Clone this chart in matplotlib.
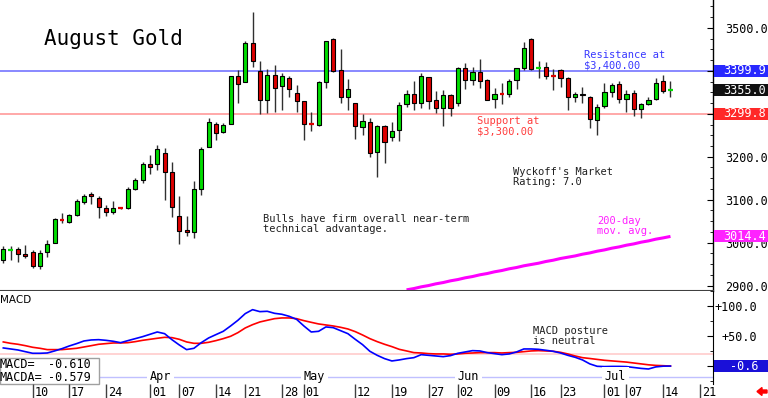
import numpy as np
import matplotlib
matplotlib.use("Agg")
import matplotlib.pyplot as plt
from matplotlib.patches import Rectangle, FancyArrow
from matplotlib.ticker import MultipleLocator

plt.rcParams['font.family'] = ['DejaVu Sans Mono']

###############################################################################
# data (daily candles, Mar 04 .. Jul 15)
opens = [2960, 2983, 2984, 2974, 2979, 2945, 2977, 2999, 3053, 3048,
         3064, 3095, 3113, 3105, 3080, 3072, 3081, 3080, 3125, 3146,
         3184, 3184, 3208, 3164, 3063, 3030, 3025, 3126, 3222, 3276,
         3257, 3276, 3387, 3375, 3466, 3400, 3331, 3391, 3365, 3384,
         3348, 3330, 3277, 3274, 3375, 3475, 3402, 3340, 3325, 3270,
         3281, 3210, 3272, 3247, 3263, 3322, 3346, 3325, 3385, 3331,
         3313, 3343, 3325, 3406, 3379, 3398, 3379, 3335, 3347, 3346,
         3379, 3406, 3474, 3405, 3408, 3388, 3401, 3384, 3339, 3347,
         3340, 3286, 3317, 3350, 3369, 3335, 3348, 3312, 3322, 3334,
         3377, 3354]
highs = [2993, 2993, 2990, 2995, 2982, 2982, 3005, 3057, 3069, 3067,
         3101, 3113, 3119, 3108, 3088, 3096, 3083, 3129, 3150, 3188,
         3205, 3228, 3221, 3188, 3109, 3063, 3144, 3222, 3290, 3282,
         3278, 3388, 3401, 3470, 3538, 3423, 3405, 3413, 3395, 3387,
         3367, 3330, 3305, 3377, 3470, 3477, 3451, 3381, 3326, 3299,
         3290, 3274, 3274, 3281, 3327, 3356, 3377, 3396, 3386, 3354,
         3356, 3345, 3410, 3419, 3410, 3427, 3380, 3360, 3371, 3381,
         3406, 3468, 3476, 3423, 3420, 3405, 3404, 3385, 3350, 3363,
         3342, 3322, 3371, 3371, 3377, 3356, 3356, 3326, 3339, 3383,
         3391, 3377]
lows = [2953, 2960, 2954, 2964, 2941, 2939, 2966, 2999, 3046, 3046,
        3063, 3089, 3089, 3057, 3062, 3067, 3079, 3078, 3122, 3139,
        3159, 3170, 3100, 3060, 2997, 3015, 3010, 3112, 3222, 3240,
        3255, 3276, 3326, 3375, 3410, 3300, 3302, 3305, 3309, 3339,
        3305, 3238, 3259, 3272, 3361, 3398, 3325, 3309, 3241, 3250,
        3199, 3152, 3185, 3237, 3236, 3315, 3308, 3313, 3311, 3302,
        3271, 3295, 3319, 3357, 3367, 3361, 3331, 3313, 3322, 3340,
        3358, 3401, 3402, 3384, 3381, 3356, 3362, 3309, 3327, 3326,
        3268, 3251, 3313, 3338, 3325, 3305, 3294, 3290, 3320, 3332,
        3348, 3340]
closes = [2985, 2984, 2974, 2968, 2945, 2976, 2997, 3056, 3052, 3064,
          3098, 3108, 3108, 3082, 3072, 3080, 3080, 3125, 3146, 3184,
          3177, 3218, 3164, 3083, 3026, 3025, 3125, 3219, 3281, 3255,
          3274, 3387, 3370, 3466, 3422, 3331, 3391, 3360, 3387, 3357,
          3330, 3276, 3276, 3373, 3470, 3400, 3340, 3358, 3272, 3284,
          3208, 3272, 3234, 3260, 3321, 3346, 3325, 3387, 3329, 3313,
          3343, 3313, 3406, 3379, 3398, 3377, 3333, 3346, 3346, 3377,
          3406, 3453, 3405, 3406, 3388, 3387, 3384, 3340, 3346, 3343,
          3288, 3315, 3350, 3367, 3335, 3346, 3312, 3322, 3333, 3371,
          3352, 3355]

# 200-day moving average, from candle 55 on (earlier values are off scale)
ma_start = 55
ma200 = [2890, 2893, 2897, 2900, 2904, 2907, 2911, 2914, 2918, 2921,
         2925, 2928, 2932, 2935, 2939, 2942, 2946, 2949, 2952, 2956,
         2959, 2963, 2966, 2969, 2973, 2976, 2980, 2983, 2987, 2990,
         2994, 2997, 3001, 3004, 3008, 3011, 3014.4]

macd = [29.6, 27.9, 26.2, 23.4, 20.7, 20.7, 21.2, 24.6, 28.4, 32.9,
        36.8, 41.2, 42.9, 43.4, 42.3, 40.7, 38.4, 41.8, 45.1, 48.4,
        52.3, 56.2, 53.4, 43.4, 34.6, 26.8, 29.0, 38.4, 46.2, 51.8,
        57.3, 66.2, 75.7, 86.8, 93.4, 90.1, 90.7, 87.3, 85.7, 82.3,
        77.3, 66.2, 56.2, 57.3, 64.6, 63.4, 58.4, 53.4, 44.0, 35.1,
        24.0, 17.3, 11.8, 7.9, 9.6, 11.8, 13.4, 18.4, 17.3, 16.2,
        15.1, 16.8, 20.7, 22.9, 25.1, 24.6, 21.8, 20.1, 18.4, 19.6,
        22.9, 27.9, 27.9, 27.3, 25.7, 24.0, 21.2, 17.3, 14.0, 9.6,
        3.0, -1.0, -1.5, -1.2, -1.2, -1.5, -3.0, -4.5, -5.5, -2.0,
        -0.8, -0.610]
macda = [39.6, 37.3, 35.7, 33.4, 30.7, 29.0, 26.8, 26.8, 26.8, 27.9,
         29.0, 31.2, 33.4, 35.7, 36.8, 37.9, 37.9, 38.4, 40.1, 42.3,
         44.0, 45.7, 47.3, 46.8, 44.0, 39.6, 37.3, 37.3, 39.0, 41.8,
         45.1, 49.0, 55.1, 62.9, 68.4, 72.9, 75.7, 78.4, 79.6, 79.6,
         78.4, 75.1, 72.3, 69.6, 67.9, 66.2, 64.0, 61.2, 56.8, 51.2,
         45.1, 40.1, 35.7, 31.8, 27.3, 24.6, 21.8, 21.2, 20.1, 19.6,
         19.6, 19.0, 19.6, 20.7, 21.2, 21.8, 21.8, 21.8, 21.2, 21.8,
         22.3, 23.4, 24.6, 25.1, 24.6, 24.0, 22.3, 19.6, 16.2, 13.4,
         12.0, 10.5, 9.0, 8.0, 7.0, 6.0, 4.5, 3.0, 1.5, 0.5,
         0.0, -0.579]

price_ticks = [2900, 3000, 3100, 3200, 3300, 3400, 3500]
# 3300 / 3400 labels sit under the support / resistance tags
price_tick_lbl = ['2900.0', '3000.0', '3100.0', '3200.0', '', '', '3500.0']
macd_ticks = [0, 50, 100]
macd_tick_lbl = ['', '+50.0', '+100.0']

day_idx = [4, 9, 14, 20, 24, 29, 33, 38, 41, 48, 53, 58, 62, 67, 72, 76,
           82, 85, 90, 95]
day_lbl = ['10', '17', '24', '01', '07', '14', '21', '28', '01', '12',
           '19', '27', '02', '09', '16', '23', '01', '07', '14', '21']
month_idx = [20, 41, 62, 82]
month_lbl = ['Apr', 'May', 'Jun', 'Jul']

resistance = 3399.9
support = 3299.8

###############################################################################
# layout (pixels of a 768x398 picture)
W, H = 768.0, 398.0
fig = plt.figure(figsize=(7.68, 3.98), dpi=100)
ax = fig.add_axes([0, 1 - 290.7 / H, 713 / W, 290.7 / H])
axm = fig.add_axes([0, 1 - 384 / H, 713 / W, (384 - 290.7) / H], sharex=ax)
axd = fig.add_axes([0, 0, 713 / W, 14 / H], sharex=ax)

idx = np.arange(len(closes))
o = np.array(opens, float)
c = np.array(closes, float)

###############################################################################
# price panel
ax.axhline(resistance, color='#8888ff', lw=1.4, zorder=1)
ax.axhline(support, color='#ffa8a8', lw=1.4, zorder=1)

ax.vlines(idx, lows, highs, color='#303030', lw=1.0, zorder=2)
up = c >= o
doji = np.abs(c - o) < 3.5
for i in idx:
    col = '#00dd00' if up[i] else '#dd0000'
    if doji[i]:
        ax.hlines((o[i] + c[i]) / 2, i - 0.32, i + 0.32, color=col, lw=1.6,
                  zorder=3)
    else:
        ax.add_patch(Rectangle((i - 0.28, min(o[i], c[i])), 0.56,
                               abs(c[i] - o[i]), fc=col, ec='black',
                               lw=0.8, zorder=3))

ax.plot(np.arange(ma_start, ma_start + len(ma200)), ma200, color='#ff00ff',
        lw=2.2, zorder=2, solid_capstyle='butt')

ax.set_xlim(-0.45, 96.8)
ax.set_ylim(2888, 3565)
ax.yaxis.tick_right()
ax.set_yticks(price_ticks)
ax.set_yticklabels(price_tick_lbl)
ax.yaxis.set_minor_locator(MultipleLocator(25))
ax.tick_params(axis='y', which='major', direction='in', length=4, pad=9,
               labelsize=8.5, colors='black')
ax.tick_params(axis='y', which='minor', direction='in', length=2)
ax.tick_params(axis='x', bottom=False, labelbottom=False)
for s in ['left', 'top']:
    ax.spines[s].set_visible(False)
ax.spines['bottom'].set_color('#404040')
ax.spines['bottom'].set_linewidth(1.5)
ax.spines['right'].set_linewidth(1.0)

txt = dict(fontsize=7.5, linespacing=1.05, va='center', ha='left')
ax.text(5.55, 3474, 'August Gold', fontsize=15, va='center', ha='left')
ax.text(35.4, 3043, 'Bulls have firm overall near-term\ntechnical advantage.',
        color='#202020', **txt)
ax.text(69.5, 3153, "Wyckoff's Market\nRating: 7.0", color='#202020', **txt)
ax.text(79.2, 3425, 'Resistance at\n$3,400.00', color='#3838ff', **txt)
ax.text(64.6, 3272, 'Support at\n$3,300.00', color='#ff3c3c', **txt)
ax.text(81.0, 3038, '200-day\nmov. avg.', color='#ff20ff', **txt)

###############################################################################
# MACD panel
axm.axhline(19.5, color='#ffcccc', lw=1.2, zorder=1)
axm.axhline(-18.3, color='#c0c0ff', lw=1.0, zorder=1)
axm.plot(idx, macda, color='#ff0000', lw=1.2, zorder=3)
axm.plot(idx, macd, color='#0000ff', lw=1.2, zorder=3)
axm.set_ylim(-30.5, 125)
axm.yaxis.tick_right()
axm.set_yticks(macd_ticks)
axm.set_yticklabels(macd_tick_lbl)
axm.yaxis.set_minor_locator(MultipleLocator(25))
axm.tick_params(axis='y', which='major', direction='in', length=4, pad=32,
                labelsize=8.5)
axm.tick_params(axis='y', which='minor', direction='in', length=2)
for lbl in axm.get_yticklabels():
    lbl.set_horizontalalignment('right')
axm.tick_params(axis='x', bottom=False, labelbottom=False)
for s in ['left', 'top', 'bottom']:
    axm.spines[s].set_visible(False)

for i, m in zip(month_idx, month_lbl):
    axm.text(i, -18.3, m, fontsize=8.5, ha='left', va='center', zorder=4,
             bbox=dict(boxstyle='square,pad=0.25', fc='white', ec='none'))

axm.text(0.0, 0.90, 'MACD', transform=axm.transAxes, fontsize=7.5,
         family='DejaVu Sans', va='center', ha='left')
axm.text(72.3, 50, 'MACD posture\nis neutral', color='#202020', **txt)

axm.add_patch(Rectangle((0, 0), 99 / 713, 0.28, transform=axm.transAxes,
                        fc='white', ec='#a0a0a0', lw=1, zorder=5,
                        clip_on=False))
axm.text(-1 / 713, 0.205, 'MACD=', transform=axm.transAxes, fontsize=8.5,
         va='center', ha='left', zorder=6)
axm.text(-1 / 713, 0.075, 'MACDA=', transform=axm.transAxes, fontsize=8.5,
         va='center', ha='left', zorder=6)
axm.text(91 / 713, 0.205, '{0:.3f}'.format(macd[-1]),
         transform=axm.transAxes, fontsize=8.5, va='center', ha='right',
         zorder=6)
axm.text(91 / 713, 0.075, '{0:.3f}'.format(macda[-1]),
         transform=axm.transAxes, fontsize=8.5, va='center', ha='right',
         zorder=6)

###############################################################################
# date strip
axd.axis('off')
axd.set_ylim(0, 1)
axd.vlines(day_idx, 0, 1, color='#404040', lw=1.0)
for i, d in zip(day_idx, day_lbl):
    axd.text(i + 0.25, 0.42, d, fontsize=8.5, ha='left', va='center')

###############################################################################
# value tags on the right edge
def tag(a, val, label, bg, tx, ha):
    yd = a.transData.transform((0, val))[1]
    fig.add_artist(Rectangle((714 / W, (yd - 6) / H), 54 / W, 12 / H,
                             transform=fig.transFigure, fc=bg, ec='none',
                             zorder=5))
    fig.text(tx / W, yd / H, label, color='white', fontsize=8.5, ha=ha,
             va='center', zorder=6)


tag(ax, resistance, '{0:.1f}'.format(resistance), '#2828ff', 723, 'left')
tag(ax, closes[-1], '{0:.1f}'.format(closes[-1]), '#111111', 723, 'left')
tag(ax, support, '{0:.1f}'.format(support), '#ff2828', 723, 'left')
tag(ax, ma200[-1], '{0:.1f}'.format(ma200[-1]), '#ff22ff', 723, 'left')
tag(axm, macd[-1], '{0:.1f}'.format(macd[-1]), '#1a10d8', 758, 'right')

fig.add_artist(FancyArrow(767 / W, 6.5 / H, -10 / W, 0, width=3 / H,
                          head_width=8 / H, head_length=5 / W,
                          length_includes_head=True, color='#ff0000',
                          transform=fig.transFigure))

fig.savefig('out.png', dpi=100)
